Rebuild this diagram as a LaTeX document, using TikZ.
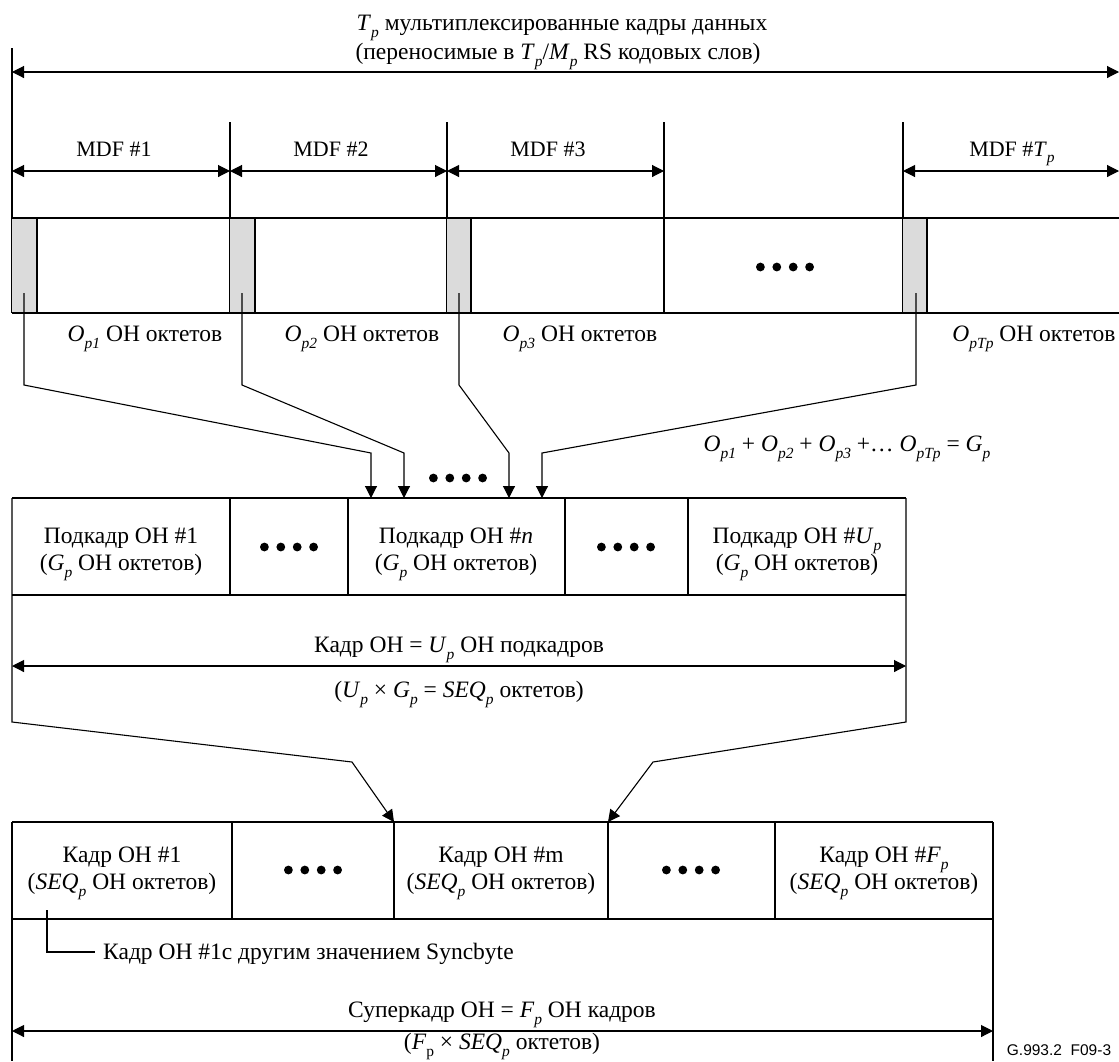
\documentclass[tikz,border=0pt]{standalone}
\usepackage{fontspec}
\setmainfont{Liberation Serif}
\newfontfamily\arialf{Liberation Sans}
\usetikzlibrary{arrows.meta}
\newcommand\sbi[1]{\raisebox{-0.3em}{\fontsize{15.5}{15.5}\selectfont\itshape #1}}
\newcommand\sbu[1]{\raisebox{-0.3em}{\fontsize{15.5}{15.5}\selectfont #1}}
\newcommand\dotrow[2]{\foreach \i in {-1.5,-0.5,0.5,1.5} \fill ({#1+\i*16.4},#2) circle (4.4pt);}
\tikzset{
  ln/.style={line width=1.1pt, line join=miter},
  arr/.style={ln, -{Triangle[length=12pt,width=12pt]}},
  darr/.style={ln, {Triangle[length=12pt,width=12pt]}-{Triangle[length=12pt,width=12pt]}},
  txt/.style={font=\fontsize{23.5}{27}\selectfont, inner sep=0pt, anchor=base},
  mdf/.style={font=\fontsize{22}{26}\selectfont, inner sep=0pt, anchor=base},
  oh/.style={fill=black!14, draw=none},
}
\begin{document}
\begin{tikzpicture}[x=1pt,y=-1pt]
\useasboundingbox (0,0) rectangle (1119,1061);

% ---------- top titles ----------
\node[txt] (t1) at (562,30) {\textit{T}\sbi{p} мультиплексированные кадры данных};
\node[txt] (t2) at (558,59) {(переносимые в \textit{T}\sbi{p}/\textit{M}\sbi{p} RS кодовых слов)};
\coordinate (tl) at (12,72);
\coordinate (tr) at (1119,72);
\draw[darr] (tl) -- (tr);
\draw[ln] (12,48) -- (12,313);

% ---------- MDF arrows ----------
\foreach \x in {230,447,664,903} \draw[ln] (\x,122) -- (\x,313);
\coordinate (m0) at (12,171);
\coordinate (m1) at (230,171);
\coordinate (m2) at (447,171);
\coordinate (m3) at (664,171);
\coordinate (m4) at (903,171);
\coordinate (m5) at (1119,171);
\draw[darr] (m0) -- (m1);
\draw[darr] (m1) -- (m2);
\draw[darr] (m2) -- (m3);
\draw[darr] (m4) -- (m5);
\node[mdf] (mdf1) at (114,156) {MDF \#1};
\node[mdf] (mdf2) at (331,156) {MDF \#2};
\node[mdf] (mdf3) at (548,156) {MDF \#3};
\node[mdf] (mdf4) at (1012,156) {MDF \#\textit{T}\sbi{p}};

% ---------- top frame row ----------
\fill[oh] (12,218) rectangle (37,313);
\fill[oh] (230,218) rectangle (255,313);
\fill[oh] (447,218) rectangle (471,313);
\fill[oh] (903,218) rectangle (927,313);
\draw[ln] (12,218) -- (1119,218);
\draw[ln] (12,313) -- (1119,313);
\foreach \x in {37,255,471,927} \draw[ln] (\x,218) -- (\x,313);
\dotrow{785}{267}

\node[txt] (o1) at (145,341) {\textit{O}\sbi{p1} OH октетов};
\node[txt] (o2) at (362,341) {\textit{O}\sbi{p2} OH октетов};
\node[txt] (o3) at (580,341) {\textit{O}\sbi{p3} OH октетов};
\node[txt] (o4) at (1034,341) {\textit{O}\sbi{pTp} OH октетов};

% ---------- connectors to subframe ----------
\coordinate (s1) at (24,293);
\coordinate (s2) at (242,293);
\coordinate (s3) at (459,293);
\coordinate (s4) at (916,293);
\coordinate (e1) at (371,498);
\coordinate (e2) at (404,498);
\coordinate (e3) at (509,498);
\coordinate (e4) at (542,498);
\draw[arr] (s1) -- (24,385) -- (371,453) -- (e1);
\draw[arr] (s2) -- (242,385) -- (404,453) -- (e2);
\draw[arr] (s3) -- (459,385) -- (509,453) -- (e3);
\draw[arr] (s4) -- (916,385) -- (542,453) -- (e4);
\dotrow{458}{478}
\node[txt] (sum) at (847,451) {\textit{O}\sbi{p1} + \textit{O}\sbi{p2} + \textit{O}\sbi{p3} +\ldots\ \textit{O}\sbi{pTp} = \textit{G}\sbi{p}};

% ---------- OH frame (subframes) ----------
\draw[ln] (12,498) -- (906,498);
\draw[ln] (12,595) -- (906,595);
\foreach \x in {230,348,565,688} \draw[ln] (\x,498) -- (\x,595);
\node[txt] (sf1a) at (121,543) {Подкадр OH \#1};
\node[txt] (sf1b) at (121,570) {(\textit{G}\sbi{p} OH октетов)};
\dotrow{289}{547}
\node[txt] (sfna) at (456,543) {Подкадр OH \#\textit{n}};
\node[txt] (sfnb) at (456,570) {(\textit{G}\sbi{p} OH октетов)};
\dotrow{626}{547}
\node[txt] (sfua) at (797,543) {Подкадр OH \#\textit{U}\sbi{p}};
\node[txt] (sfub) at (797,570) {(\textit{G}\sbi{p} OH октетов)};
\coordinate (fl) at (12,666);
\coordinate (fr) at (906,666);
\draw[darr] (fl) -- (fr);
\node[txt] (fa) at (459,652) {Кадр OH = \textit{U}\sbi{p} OH подкадров};
\node[txt] (fb) at (459,697) {(\textit{U}\sbi{p} × \textit{G}\sbi{p} = \textit{SEQ}\sbi{p} октетов)};
\coordinate (b1) at (394,822);
\coordinate (b2) at (608,822);
\draw[arr] (12,498) -- (12,722) -- (352,762) -- (b1);
\draw[arr] (906,498) -- (906,722) -- (653,762) -- (b2);

% ---------- OH superframe ----------
\draw[ln] (12,822) -- (993,822);
\draw[ln] (12,919) -- (993,919);
\draw[ln] (12,822) -- (12,1061);
\draw[ln] (993,822) -- (993,1061);
\foreach \x in {232,394,608,775} \draw[ln] (\x,822) -- (\x,919);
\node[txt] (k1a) at (122,862) {Кадр OH \#1};
\node[txt] (k1b) at (122,889) {(\textit{SEQ}\sbi{p} OH октетов)};
\dotrow{313}{870}
\node[txt] (kma) at (501,862) {Кадр OH \#m};
\node[txt] (kmb) at (501,889) {(\textit{SEQ}\sbi{p} OH октетов)};
\dotrow{691}{870}
\node[txt] (kfa) at (884,862) {Кадр OH \#\textit{F}\sbi{p}};
\node[txt] (kfb) at (884,889) {(\textit{SEQ}\sbi{p} OH октетов)};
\coordinate (mk) at (47,910);
\node[txt, anchor=base west] (sync) at (103,959) {Кадр OH \#1с другим значением Syncbyte};
\draw[ln] (mk) -- (47,952) -- (95,952);
\coordinate (gl) at (12,1031);
\coordinate (gr) at (993,1031);
\draw[darr] (gl) -- (gr);
\node[txt] (sa) at (502,1017) {Суперкадр OH = \textit{F}\sbi{p} OH кадров};
\node[txt] (sb) at (502,1049) {(\textit{F}\sbu{p} × \textit{SEQ}\sbi{p} октетов)};
\node[font=\arialf\fontsize{15.5}{16}\selectfont, inner sep=0pt, anchor=base] (fig) at (1059,1055) {G.993.2\ \ F09-3};
\end{tikzpicture}
\end{document}
